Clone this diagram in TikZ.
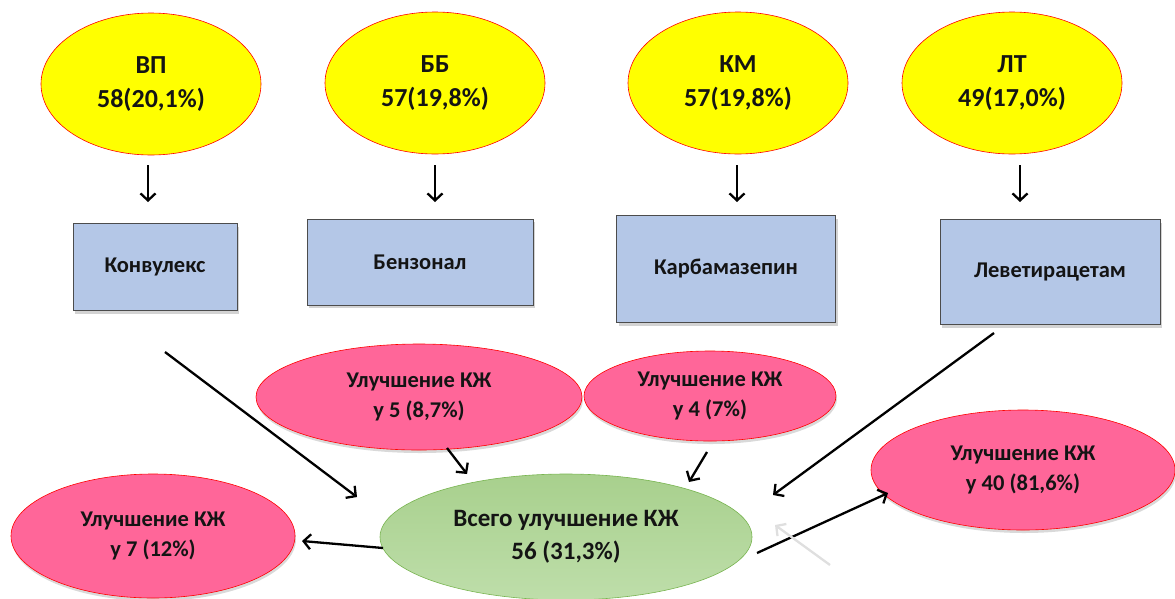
\documentclass[tikz,border=0pt]{standalone}
\usepackage{fontspec}
\setmainfont{Carlito}
\usetikzlibrary{shapes.geometric,arrows.meta,shadows}
\definecolor{yel}{RGB}{255,255,0}
\definecolor{pinkf}{RGB}{255,102,153}
\definecolor{boxf}{RGB}{180,199,231}
\definecolor{grnt}{RGB}{168,208,141}
\definecolor{grnb}{RGB}{190,222,170}
\definecolor{grnd}{RGB}{120,180,80}
\definecolor{txt}{RGB}{20,20,20}
\begin{document}
\begin{tikzpicture}[x=1pt,y=-1pt,
  top/.style={ellipse, draw=red, line width=0.6pt, fill=yel, inner sep=0pt, align=center,
    minimum width=220pt, minimum height=142pt, text=txt,
    font=\bfseries\fontsize{26}{36}\selectfont},
  drug/.style={rectangle, draw=black!70, line width=0.8pt, fill=boxf, inner sep=0pt, text=txt,
    font=\bfseries\fontsize{22.5}{26}\selectfont,
    drop shadow={shadow xshift=2pt, shadow yshift=-3pt, opacity=0.35}},
  res/.style={ellipse, draw=red, line width=0.6pt, fill=pinkf, inner sep=0pt, align=center, text=txt,
    font=\bfseries\fontsize{22.5}{30}\selectfont,
    drop shadow={shadow xshift=1pt, shadow yshift=-3pt, opacity=0.3}},
  tot/.style={ellipse, draw=grnd, line width=0.6pt, top color=grnt, bottom color=grnb, inner sep=0pt,
    align=center, text=txt, font=\bfseries\fontsize{25}{34}\selectfont},
  arr/.style={line width=2.3pt, -{Straight Barb[length=7pt,width=15pt,line width=2.3pt]}},
  farr/.style={line width=2.3pt, draw=gray!25, -{Straight Barb[length=7pt,width=15pt,line width=2.3pt]}}
]
\useasboundingbox (0,0) rectangle (1175,598);

% top ellipses
\node[top] (vp) at (151,84) {\raisebox{-8pt}{\shortstack{ВП\\[12pt]58(20,1\%)}}};
\node[top] (bb) at (435,83) {\raisebox{-8pt}{\shortstack{ББ\\[12pt]57(19,8\%)}}};
\node[top] (km) at (738,83) {\raisebox{-8pt}{\shortstack{КМ\\[12pt]57(19,8\%)}}};
\node[top] (lt) at (1012,83) {\raisebox{-8pt}{\shortstack{ЛТ\\[12pt]49(17,0\%)}}};

% drug boxes
\node[drug, minimum width=164pt, minimum height=87pt] (konv) at (155,267) {Конвулекс};
\node[drug, minimum width=226pt, minimum height=86pt] (benz) at (420,262) {Бензонал};
\node[drug, minimum width=219pt, minimum height=107pt] (karb) at (726,269) {Карбамазепин};
\node[drug, minimum width=220pt, minimum height=105pt] (levt) at (1050,272) {Леветирацетам};

% result ellipses
\node[res, minimum width=326pt, minimum height=106pt] (r1) at (419,397) {Улучшение КЖ\\у 5 (8,7\%)};
\node[res, minimum width=252pt, minimum height=90pt] (r2) at (710,396) {Улучшение КЖ\\у 4 (7\%)};
\node[res, minimum width=304pt, minimum height=120pt] (r3) at (1023,470) {Улучшение КЖ\\у 40 (81,6\%)};
\node[res, minimum width=284pt, minimum height=124pt] (r4) at (153,536) {Улучшение КЖ\\у 7 (12\%)};

% total
\node[tot, minimum width=372pt, minimum height=126pt] (g) at (566,537) {\raisebox{-11pt}{\shortstack{Всего улучшение КЖ\\[8pt]56 (31,3\%)}}};

% arrow end points
\coordinate (a1s) at (148,165); \coordinate (a1e) at (148,202);
\coordinate (a2s) at (435,165); \coordinate (a2e) at (435,202);
\coordinate (a3s) at (737,165); \coordinate (a3e) at (737,202);
\coordinate (a4s) at (1020,165); \coordinate (a4e) at (1020,202);
\coordinate (b1s) at (165,352); \coordinate (b1e) at (357,497);
\coordinate (b2s) at (994,333); \coordinate (b2e) at (773,495);
\coordinate (c1s) at (447,448); \coordinate (c1e) at (467,474);
\coordinate (c2s) at (707,452); \coordinate (c2e) at (689,482);
\coordinate (d1s) at (383,548); \coordinate (d1e) at (302,541);
\coordinate (d2s) at (757,553); \coordinate (d2e) at (888,493);
\coordinate (f1s) at (830,565); \coordinate (f1e) at (775,525);

\draw[arr] (a1s) -- (a1e);
\draw[arr] (a2s) -- (a2e);
\draw[arr] (a3s) -- (a3e);
\draw[arr] (a4s) -- (a4e);
\draw[arr] (b1s) -- (b1e);
\draw[arr] (b2s) -- (b2e);
\draw[arr] (c1s) -- (c1e);
\draw[arr] (c2s) -- (c2e);
\draw[arr] (d1s) -- (d1e);
\draw[arr] (d2s) -- (d2e);
\draw[farr] (f1s) -- (f1e);
\end{tikzpicture}
\end{document}
